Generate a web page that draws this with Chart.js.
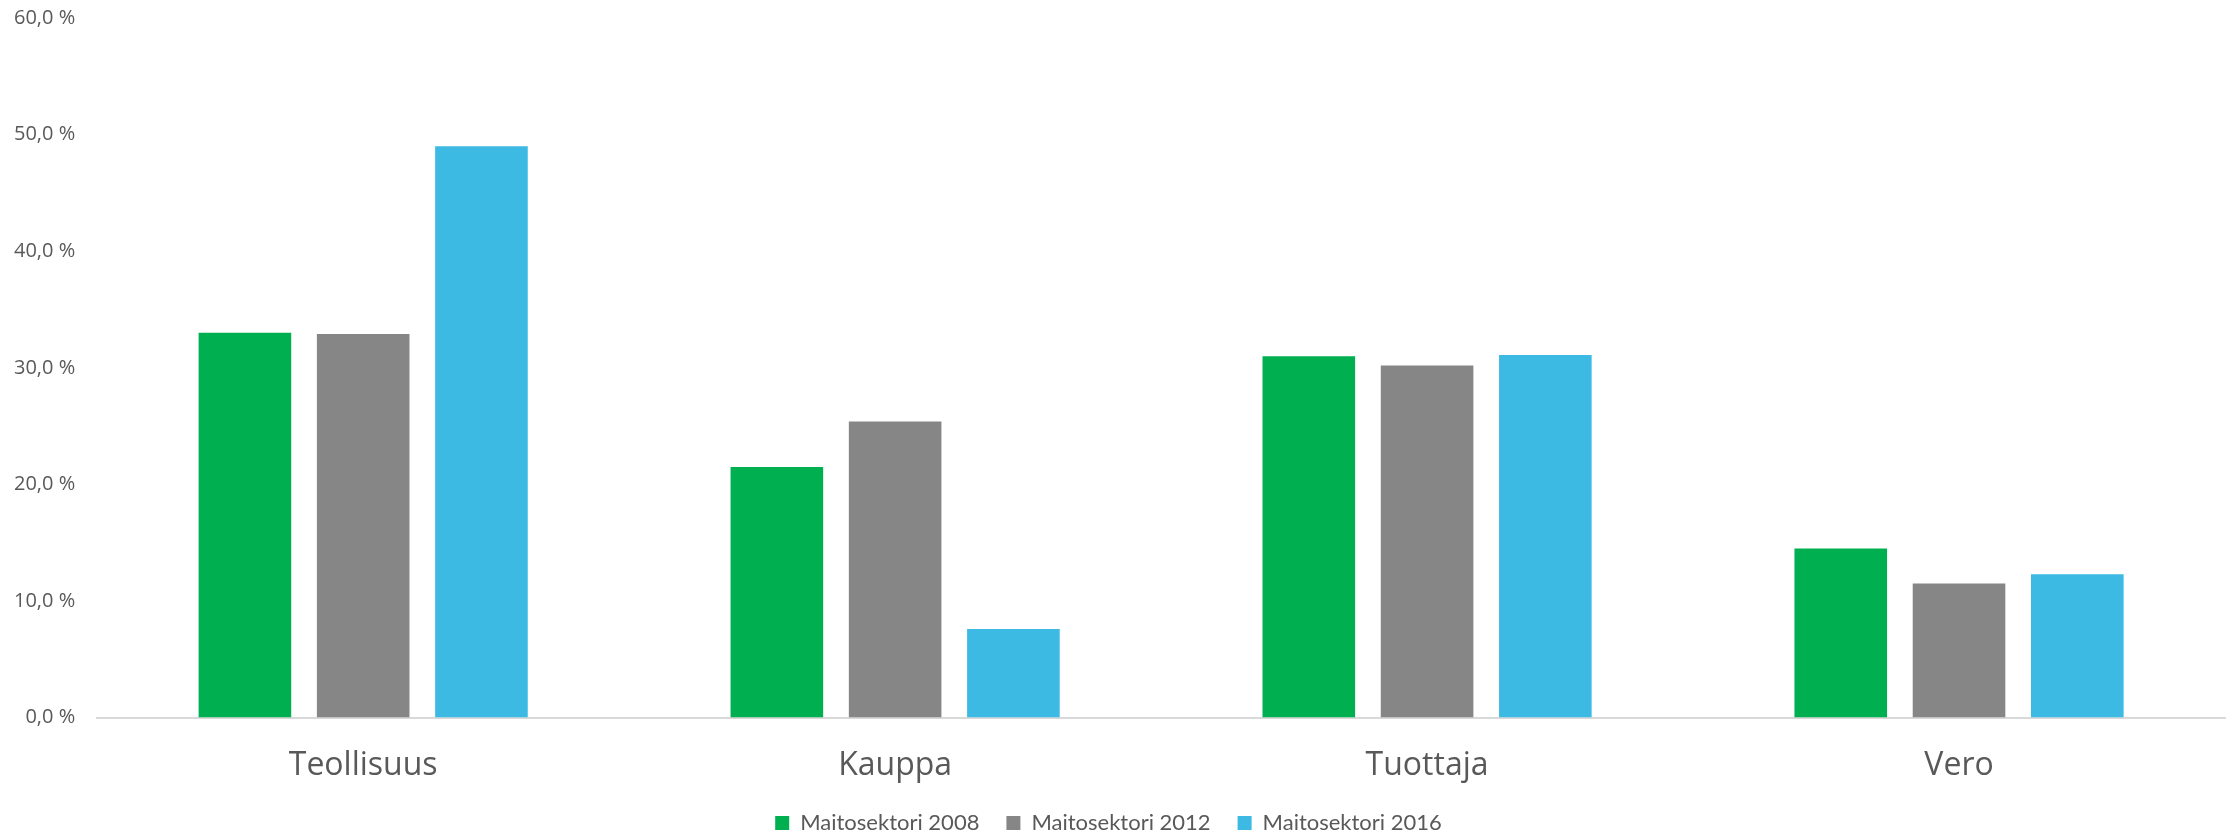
<html lang="fi">
<head>
  <meta charset="UTF-8">
  <title>Maitosektori</title>
  <script src="https://cdn.jsdelivr.net/npm/chart.js"></script>
  <style>
    html, body { margin: 0; padding: 0; background: white; }
    #wrap { width: 2229px; height: 838px; }
  </style>
</head>
<body>
  <div id="wrap"><canvas id="chart"></canvas></div>

  <script>
    const categories = ["Teollisuus", "Kauppa", "Tuottaja", "Vero"];
    const seriesNames = ["Maitosektori 2008", "Maitosektori 2012", "Maitosektori 2016"];
    const values2008 = [33.0, 21.5, 31.0, 14.5];
    const values2012 = [32.9, 25.4, 30.2, 11.5];
    const values2016 = [49.0, 7.6, 31.1, 12.3];
    const colors = ["#00B050", "#868686", "#3DBAE3"];

    const makeSet = (i, data) => ({
      label: seriesNames[i],
      data: data,
      backgroundColor: colors[i],
      categoryPercentage: 0.667,
      barPercentage: 0.783
    });

    new Chart(document.getElementById("chart"), {
      type: 'bar',
      data: {
        labels: categories,
        datasets: [makeSet(0, values2008), makeSet(1, values2012), makeSet(2, values2016)]
      },
      options: {
        responsive: true,
        maintainAspectRatio: false,
        animation: false,
        layout: { padding: { left: -8, right: 4, top: 18, bottom: -6 } },
        plugins: {
          tooltip: { enabled: false },
          legend: {
            position: 'bottom',
            labels: {
              font: { family: 'Lato', size: 22 },
              color: '#595959',
              boxWidth: 14,
              boxHeight: 14,
              padding: 27
            }
          }
        },
        scales: {
          x: {
            grid: { display: false, drawTicks: false },
            border: { display: true, color: '#D9D9D9', width: 2 },
            ticks: {
              font: { family: 'Open Sans', size: 32 },
              color: '#595959',
              padding: 29
            },
            // labels sit lower than the space they reserve
            afterFit: s => { s.height -= 29; }
          },
          y: {
            min: 0,
            max: 60,
            grid: { display: false, drawTicks: false },
            border: { display: false },
            ticks: {
              stepSize: 10,
              font: { family: 'Open Sans', size: 20 },
              color: '#595959',
              padding: 22,
              callback: v => v.toFixed(1).replace('.', ',') + ' %'
            },
            afterFit: s => { s.paddingTop = 0; }
          }
        }
      }
    });
  </script>
</body>
</html>
